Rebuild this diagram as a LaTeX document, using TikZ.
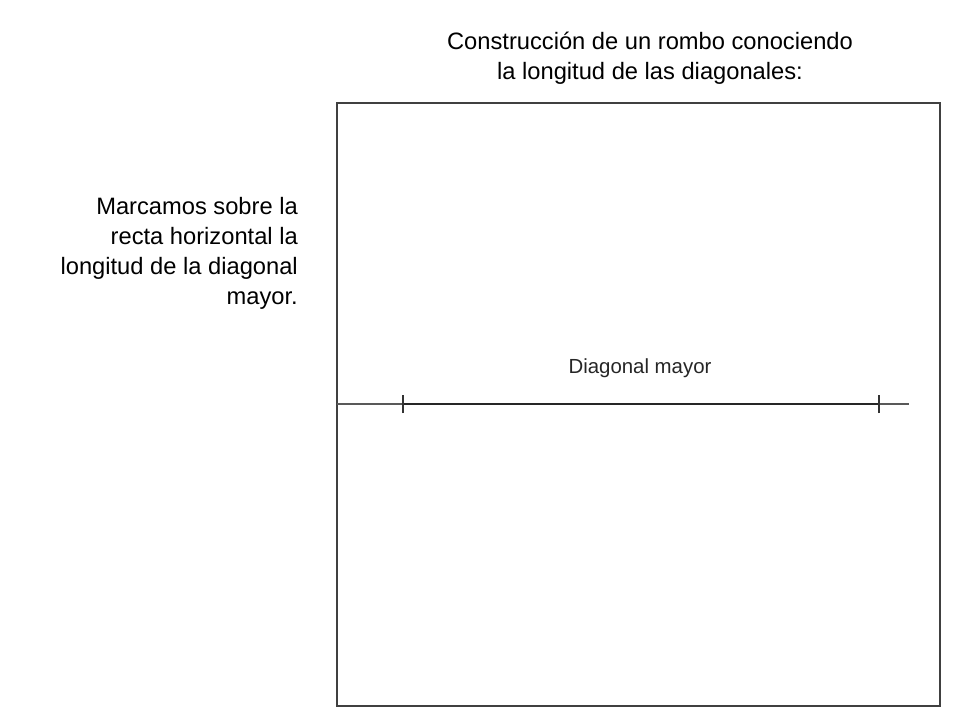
\documentclass[tikz,border=0pt]{standalone}
\usepackage{fontspec}
\setmainfont{Liberation Sans}
\begin{document}
\begin{tikzpicture}[x=1pt,y=-1pt,
  txt/.style={font=\fontsize{23.7}{30}\selectfont, inner sep=0pt, text=black},
  thin line/.style={draw=black!65, line width=1.2pt},
  seg/.style={draw=black!85, line width=2.6pt},
  tick/.style={draw=black!80, line width=1.8pt}]
\useasboundingbox[fill=white] (0,0) rectangle (960,720);
\draw[draw=black!75, line width=1.6pt] (337,103) rectangle (940,706);
\node[txt, align=center] (title) at (650,58) {Construcción de un rombo conociendo\\la longitud de las diagonales:};
\node[txt, align=right, anchor=east] (expl) at (298,253) {Marcamos sobre la\\recta horizontal la\\longitud de la diagonal\\mayor.};
\coordinate (L0) at (337,404);
\coordinate (L1) at (909,404);
\coordinate (A) at (403,404);
\coordinate (B) at (879,404);
\draw[thin line] (L0) -- (L1);
\draw[seg] (A) -- (B);
\draw[tick] ([yshift=-9pt]A) -- ([yshift=9pt]A);
\draw[tick] ([yshift=-9pt]B) -- ([yshift=9pt]B);
\node[font=\fontsize{20.4}{24}\selectfont, inner sep=0pt, text=black!85] (lab) at (640,368) {Diagonal mayor};
\end{tikzpicture}
\end{document}
